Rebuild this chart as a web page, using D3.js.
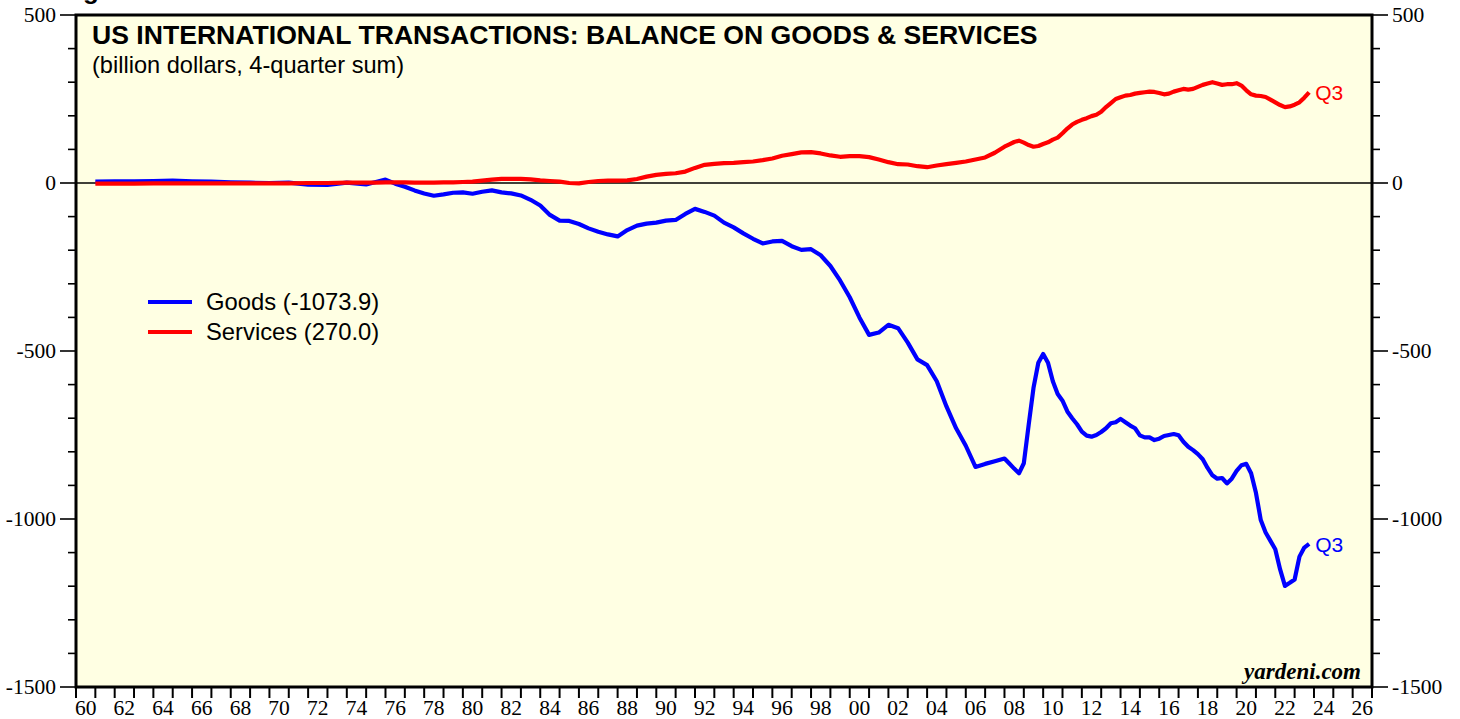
<!DOCTYPE html>
<html>
  <head>
    <meta http-equiv="Content-Type" content="text/html;charset=utf-8"/>
    <title>US International Transactions</title>
<style>
body { margin: 0; background: #fff; }
.axis-label { font-family: 'Liberation Serif', 'Times New Roman', serif; font-size: 21.5px; fill: #000; }
.sans { font-family: 'Liberation Sans', Arial, sans-serif; }
</style>
  </head>

<body>
<svg width="1460" height="719"></svg>
<script src="https://cdn.jsdelivr.net/npm/d3@7"></script>
<script>

// plotting position of each 4-quarter sum (end of quarter, decimal years)
var dates = [
  1961, 1962, 1963, 1964, 1965, 1966, 1967, 1968, 1969, 1970, 1971, 1972, 1973, 1974, 1975,
  1975.5, 1976, 1976.5, 1977, 1977.5, 1978, 1978.5, 1979, 1979.5, 1980,
  1980.5, 1981, 1981.5, 1982, 1982.5, 1983, 1983.5, 1984, 1984.5, 1985,
  1985.5, 1986, 1986.5, 1987, 1987.5, 1988, 1988.5, 1989, 1989.5, 1990,
  1990.5, 1991, 1991.5, 1992, 1992.5, 1993, 1993.5, 1994, 1994.5, 1995,
  1995.5, 1996, 1996.5, 1997, 1997.5, 1998, 1998.5, 1999, 1999.5, 2000,
  2000.5, 2001, 2001.5, 2002, 2002.5, 2003, 2003.5, 2004, 2004.5, 2005,
  2005.5, 2006, 2006.5, 2007, 2007.5, 2008,
  2008.25, 2008.5, 2008.75, 2009,
  2009.25, 2009.5, 2009.75, 2010,
  2010.25, 2010.5, 2010.75, 2011,
  2011.25, 2011.5, 2011.75, 2012,
  2012.25, 2012.5, 2012.75, 2013,
  2013.25, 2013.5, 2013.75, 2014,
  2014.25, 2014.5, 2014.75, 2015,
  2015.25, 2015.5, 2015.75, 2016,
  2016.25, 2016.5, 2016.75, 2017,
  2017.25, 2017.5, 2017.75, 2018,
  2018.25, 2018.5, 2018.75, 2019,
  2019.25, 2019.5, 2019.75, 2020,
  2020.25, 2020.5, 2020.75, 2021,
  2021.25, 2021.5, 2021.75, 2022,
  2022.25, 2022.5, 2022.75, 2023,
  2023.25, 2023.5, 2023.75
];

var goods = [
  4, 5, 5, 6, 7, 5, 4, 2, 1, 0, 1, -5, -6, 1, -4,
  3, 10, -2, -11, -22, -31, -38, -34, -29, -28,
  -32, -26, -22, -28, -31, -37, -50, -67, -95, -112,
  -113, -122, -135, -145, -153, -159, -140, -127, -121, -118,
  -112, -110, -92, -77, -86, -97, -118, -132, -150, -166,
  -180, -174, -172, -188, -199, -197, -215, -247, -290, -340,
  -400, -452, -445, -422, -432, -475, -525, -542, -590, -665,
  -730, -782, -845, -836, -828, -820,
  -835, -850, -864, -834,
  -720, -610, -535, -509,
  -535, -590, -628, -648,
  -680, -700, -718, -740,
  -752, -755, -750, -741,
  -730, -715, -712, -702,
  -712, -722, -730, -751,
  -757, -757, -765, -761,
  -753, -750, -747, -751,
  -770, -785, -795, -807,
  -822, -848, -870, -880,
  -878, -894, -880, -857,
  -840, -836, -864, -922,
  -1003, -1040, -1065, -1090,
  -1150, -1199, -1190, -1180,
  -1112, -1085, -1074
];

var services = [
  -2, -2, -2, -1, -1, -1, -1, -1, -1, -1, -1, 0, 0, 1, 1,
  1, 2, 2, 2, 1, 1, 1, 2, 2, 3,
  4, 7, 10, 12, 12, 12, 11, 8, 6, 4,
  0, -1, 3, 6, 7, 7, 8, 12, 19, 24,
  27, 29, 34, 45, 54, 57, 59, 60, 62, 64,
  68, 73, 81, 86, 91, 92, 88, 82, 78, 80,
  80, 77, 70, 62, 56, 55, 50, 47, 52, 56,
  60, 64, 70, 76, 90, 108,
  115, 122, 126, 120,
  113, 108, 110, 116,
  121, 129, 135, 148,
  162, 174, 182, 188,
  193, 199, 203, 212,
  226, 238, 250, 255,
  260, 262, 266, 268,
  270, 272, 271, 268,
  264, 266, 272, 276,
  280, 278, 280, 286,
  292, 296, 300, 296,
  292, 294, 294, 297,
  290, 276, 264, 260,
  259, 256, 248, 240,
  232, 226, 228, 233,
  240, 254, 270
];

var yearTicks = d3.range(1960, 2028);
var yTicks = [500, 0, -500, -1000, -1500];
var seriesNames = ["Goods (-1073.9)", "Services (270.0)"];
var seriesColors = ["#0000ff", "#ff0000"];

var svg = d3.select("svg"),
    plotLeft = 76, plotRight = 1372, plotTop = 15, plotBottom = 687;

var x = d3.scaleLinear().domain([1960, 2027]).range([plotLeft, plotRight]);
var y = d3.scaleLinear().domain([-1500, 500]).range([plotBottom, plotTop]);

// plot background
svg.append("rect")
    .attr("x", plotLeft).attr("y", plotTop)
    .attr("width", plotRight - plotLeft).attr("height", plotBottom - plotTop)
    .attr("fill", "#ffffe3");

// the partly cut heading above the chart
svg.append("text")
    .attr("class", "sans")
    .attr("x", 60).attr("y", -1)
    .attr("font-size", 26).attr("font-weight", "bold")
    .text("Figure 1.");

// zero line
svg.append("line")
    .attr("x1", plotLeft).attr("x2", plotRight)
    .attr("y1", y(0)).attr("y2", y(0))
    .attr("stroke", "#000").attr("stroke-width", 1.3);

// y axes, left and right
var yMinor = d3.range(-1500, 501, 100);
[{x: plotLeft, dir: -1, anchor: "end", dx: -4}, {x: plotRight, dir: 1, anchor: "start", dx: 4}].forEach(function(s) {
  svg.selectAll(null)
    .data(yMinor)
    .enter().append("line")
      .attr("x1", s.x)
      .attr("x2", function(d) { return s.x + s.dir * (d % 500 === 0 ? 16 : 8); })
      .attr("y1", function(d) { return y(d); })
      .attr("y2", function(d) { return y(d); })
      .attr("stroke", "#000").attr("stroke-width", 1.6);

  svg.selectAll(null)
    .data(yTicks)
    .enter().append("text")
      .attr("class", "axis-label")
      .attr("x", s.x + s.dir * 16 + s.dx)
      .attr("y", function(d) { return y(d) + 7; })
      .attr("text-anchor", s.anchor)
      .text(function(d) { return d; });
});

// x axis ticks every year, labels on even years
svg.selectAll(null)
  .data(yearTicks)
  .enter().append("line")
    .attr("x1", function(d) { return x(d); })
    .attr("x2", function(d) { return x(d); })
    .attr("y1", plotBottom)
    .attr("y2", plotBottom + 11)
    .attr("stroke", "#000").attr("stroke-width", 2);

svg.selectAll(null)
  .data(yearTicks.filter(function(d) { return d % 2 === 0 && d < 2027; }))
  .enter().append("text")
    .attr("class", "axis-label")
    .attr("x", function(d) { return x(d + 0.5); })
    .attr("y", 715)
    .attr("text-anchor", "middle")
    .text(function(d) { return String(d % 100).padStart(2, "0"); });

// series
var line = d3.line()
    .x(function(d) { return x(d[0]); })
    .y(function(d) { return y(d[1]); });

[goods, services].forEach(function(vals, i) {
  svg.append("path")
      .datum(dates.map(function(t, j) { return [t, vals[j]]; }))
      .attr("d", line)
      .attr("fill", "none")
      .attr("stroke", seriesColors[i])
      .attr("stroke-width", 4.2)
      .attr("stroke-linejoin", "round");

  svg.append("text")
      .attr("class", "sans")
      .attr("x", x(dates[dates.length - 1]) + 6)
      .attr("y", y(vals[vals.length - 1]) + 8)
      .attr("font-size", 21)
      .attr("fill", seriesColors[i])
      .text("Q3");
});

// frame
svg.append("rect")
    .attr("x", plotLeft).attr("y", plotTop)
    .attr("width", plotRight - plotLeft).attr("height", plotBottom - plotTop)
    .attr("fill", "none")
    .attr("stroke", "#000").attr("stroke-width", 3);

// title
svg.append("text")
    .attr("class", "sans")
    .attr("x", 92).attr("y", 44)
    .attr("font-size", 26.6).attr("font-weight", "bold")
    .text("US INTERNATIONAL TRANSACTIONS: BALANCE ON GOODS & SERVICES");

svg.append("text")
    .attr("class", "sans")
    .attr("x", 92).attr("y", 73)
    .attr("font-size", 23.6)
    .text("(billion dollars, 4-quarter sum)");

// legend
var legend = svg.selectAll(".legend")
  .data(seriesNames)
  .enter().append("g")
    .attr("class", "legend")
    .attr("transform", function(d, i) { return "translate(148," + (302 + i * 30) + ")"; });

legend.append("line")
    .attr("x1", 0).attr("x2", 44)
    .attr("stroke", function(d, i) { return seriesColors[i]; })
    .attr("stroke-width", 4.2);

legend.append("text")
    .attr("class", "sans")
    .attr("x", 58).attr("y", 8)
    .attr("font-size", 23.8)
    .text(function(d) { return d; });

svg.append("text")
    .attr("x", 1361).attr("y", 679)
    .attr("text-anchor", "end")
    .attr("font-family", "'Liberation Serif', 'Times New Roman', serif")
    .attr("font-size", 23).attr("font-weight", "bold").attr("font-style", "italic")
    .text("yardeni.com");

</script>
</body>
</html>
